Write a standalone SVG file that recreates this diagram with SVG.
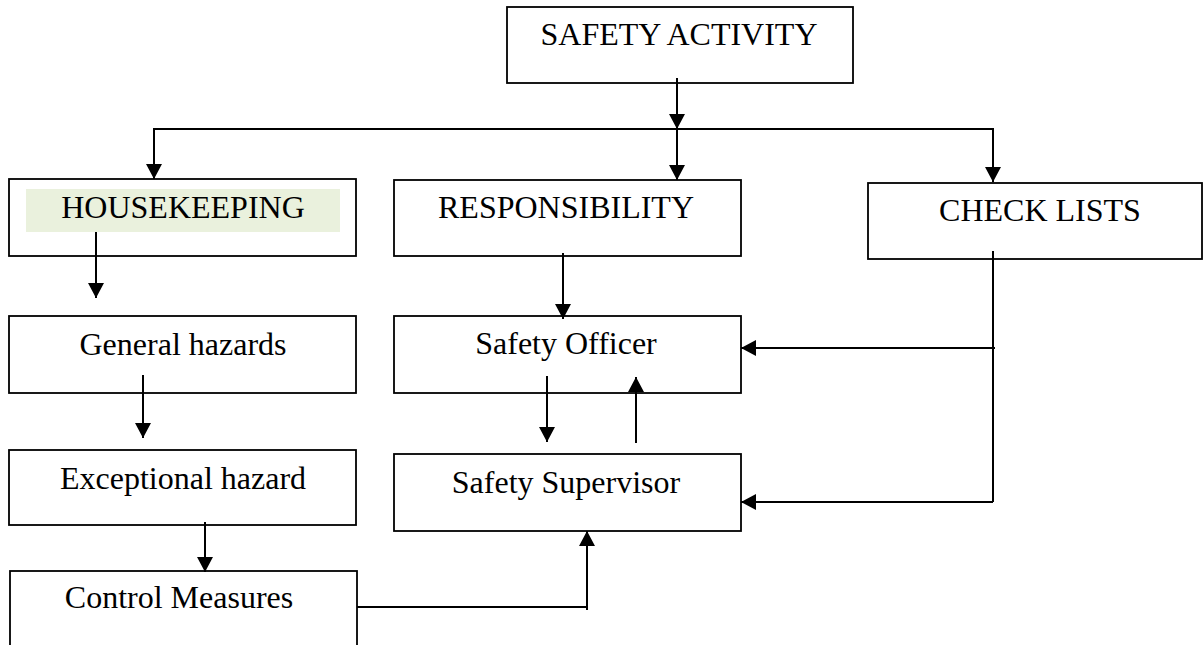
<svg xmlns="http://www.w3.org/2000/svg" width="1203" height="645" viewBox="0 0 1203 645">
<style>
.box{fill:#fff;stroke:#000;stroke-width:1.8}
.lbl{font-family:"Liberation Serif","Times New Roman",serif;font-size:32px;fill:#000;text-anchor:middle}
.con{fill:none;stroke:#000;stroke-width:2}
</style>
<defs>
<marker id="ah" markerUnits="userSpaceOnUse" markerWidth="16" markerHeight="16" viewBox="0 0 16 16" refX="15" refY="8" orient="auto">
<path d="M0,0 L15,8 L0,16 Z" fill="#000"/>
</marker>
</defs>
<rect width="1203" height="645" fill="#fff"/>
<g id="safety-activity"><rect class="box" x="507" y="7" width="346" height="76"/><text class="lbl" x="679" y="45">SAFETY ACTIVITY</text></g>
<g id="housekeeping"><rect class="box" x="9" y="179" width="347" height="77"/><rect x="26" y="189" width="314" height="43" fill="#EAF1DD"/><text class="lbl" x="183" y="218">HOUSEKEEPING</text></g>
<g id="responsibility"><rect class="box" x="394" y="180" width="347" height="76"/><text class="lbl" x="566" y="218">RESPONSIBILITY</text></g>
<g id="check-lists"><rect class="box" x="868" y="183" width="334" height="76"/><text class="lbl" x="1040" y="221">CHECK LISTS</text></g>
<g id="general-hazards"><rect class="box" x="9" y="316" width="347" height="77"/><text class="lbl" x="183" y="355">General hazards</text></g>
<g id="safety-officer"><rect class="box" x="394" y="316" width="347" height="77"/><text class="lbl" x="566" y="354">Safety Officer</text></g>
<g id="exceptional-hazard"><rect class="box" x="9" y="450" width="347" height="75"/><text class="lbl" x="183" y="489">Exceptional hazard</text></g>
<g id="safety-supervisor"><rect class="box" x="394" y="454" width="347" height="77"/><text class="lbl" x="566" y="493">Safety Supervisor</text></g>
<g id="control-measures"><rect class="box" x="10" y="571" width="347" height="90"/><text class="lbl" x="179" y="608">Control Measures</text></g>
<g id="connectors">
<path class="con" d="M677,78 V129" marker-end="url(#ah)"/>
<path class="con" d="M154,179 V129 H993 V182" />
<path class="con" d="M154,129 V179" marker-end="url(#ah)"/>
<path class="con" d="M993,129 V182" marker-end="url(#ah)"/>
<path class="con" d="M677,129 V180" marker-end="url(#ah)"/>
<path class="con" d="M96,232 V298" marker-end="url(#ah)"/>
<path class="con" d="M563,253 V319" marker-end="url(#ah)"/>
<path class="con" d="M143,375 V438" marker-end="url(#ah)"/>
<path class="con" d="M547,376 V442" marker-end="url(#ah)"/>
<path class="con" d="M636,443 V377" marker-end="url(#ah)"/>
<path class="con" d="M205,522 V572" marker-end="url(#ah)"/>
<path class="con" d="M993,251 V502"/>
<path class="con" d="M995,348 H741" marker-end="url(#ah)"/>
<path class="con" d="M993,502 H741" marker-end="url(#ah)"/>
<path class="con" d="M357,607 H587 V610"/>
<path class="con" d="M587,610 V531" marker-end="url(#ah)"/>
</g>
</svg>
